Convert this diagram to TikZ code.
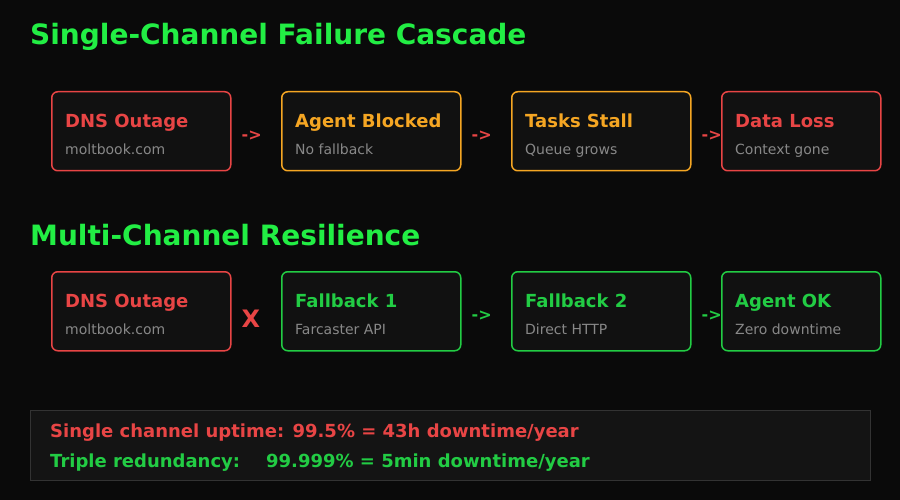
\documentclass[tikz,border=0pt]{standalone}
\usepackage{fontspec}
\setmainfont{DejaVu Sans}
\usetikzlibrary{positioning}

\definecolor{bgdark}{HTML}{0A0A0A}
\definecolor{cardfill}{HTML}{111111}
\definecolor{alertred}{HTML}{E84545}
\definecolor{warnorange}{HTML}{F5A623}
\definecolor{okgreen}{HTML}{22CC44}
\definecolor{headgreen}{HTML}{22EE44}
\definecolor{subgray}{HTML}{888888}
\definecolor{panelfill}{HTML}{141414}
\definecolor{panelline}{HTML}{333333}

\tikzset{
  card/.style={draw=#1, fill=cardfill, line width=1.5pt, rounded corners=6pt,
    minimum width=179pt, minimum height=79pt, inner sep=0pt, anchor=north west},
  cardtitle/.style={text=#1, font=\bfseries\fontsize{18}{20}\selectfont, inner sep=0pt, anchor=base west},
  cardsub/.style={text=subgray, font=\fontsize{14}{16}\selectfont, inner sep=0pt, anchor=base west},
  flowarrow/.style={text=#1, font=\bfseries\fontsize{16}{18}\selectfont, inner sep=0pt, anchor=base west},
  heading/.style={text=headgreen, font=\bfseries\fontsize{28}{32}\selectfont, inner sep=0pt, anchor=base west},
  statline/.style={text=#1, font=\bfseries\fontsize{18}{20}\selectfont, inner sep=0pt, anchor=base west}
}

\begin{document}
\begin{tikzpicture}[x=1pt, y=-1pt]
  \fill[bgdark] (0,0) rectangle (900,500);
  \useasboundingbox (0,0) rectangle (900,500);

  % single channel
  \node[heading] (headsingle) at (30,45) {Single-Channel Failure Cascade};

  \node[card=alertred] (dns) at (51,91) {};
  \node[card=warnorange] (blocked) at (281,91) {};
  \node[card=warnorange] (stall) at (511,91) {};
  \node[card=alertred, minimum width=159pt] (loss) at (721,91) {};

  \node[cardtitle=alertred] (dnst) at ([shift={(14,-4)}]dns.west) {DNS Outage};
  \node[cardsub] (dnss) at ([shift={(14,23)}]dns.west) {moltbook.com};
  \node[cardtitle=warnorange] (blockedt) at ([shift={(14,-4)}]blocked.west) {Agent Blocked};
  \node[cardsub] (blockeds) at ([shift={(14,23)}]blocked.west) {No fallback};
  \node[cardtitle=warnorange] (stallt) at ([shift={(14,-4)}]stall.west) {Tasks Stall};
  \node[cardsub] (stalls) at ([shift={(14,23)}]stall.west) {Queue grows};
  \node[cardtitle=alertred] (losst) at ([shift={(14,-4)}]loss.west) {Data Loss};
  \node[cardsub] (losss) at ([shift={(14,23)}]loss.west) {Context gone};

  \node[flowarrow=alertred] (a1) at ([shift={(10,9)}]dns.east) {->};
  \node[flowarrow=alertred] (a2) at ([shift={(10,9)}]blocked.east) {->};
  \node[flowarrow=alertred] (a3) at ([shift={(10,9)}]stall.east) {->};

  % multi channel
  \node[heading] (headmulti) at (30,245) {Multi-Channel Resilience};

  \node[card=alertred] (dnsb) at (51,271) {};
  \node[card=okgreen] (fbone) at (281,271) {};
  \node[card=okgreen] (fbtwo) at (511,271) {};
  \node[card=okgreen, minimum width=159pt] (agentok) at (721,271) {};

  \node[cardtitle=alertred] (dnsbt) at ([shift={(14,-4)}]dnsb.west) {DNS Outage};
  \node[cardsub] (dnsbs) at ([shift={(14,23)}]dnsb.west) {moltbook.com};
  \node[cardtitle=okgreen] (fbonet) at ([shift={(14,-4)}]fbone.west) {Fallback 1};
  \node[cardsub] (fbones) at ([shift={(14,23)}]fbone.west) {Farcaster API};
  \node[cardtitle=okgreen] (fbtwot) at ([shift={(14,-4)}]fbtwo.west) {Fallback 2};
  \node[cardsub] (fbtwos) at ([shift={(14,23)}]fbtwo.west) {Direct HTTP};
  \node[cardtitle=okgreen] (agentokt) at ([shift={(14,-4)}]agentok.west) {Agent OK};
  \node[cardsub] (agentoks) at ([shift={(14,23)}]agentok.west) {Zero downtime};

  \node[text=alertred, font=\bfseries\fontsize{24}{26}\selectfont, inner sep=0pt, anchor=base west]
    (cross) at ([shift={(10,16)}]dnsb.east) {X};
  \node[flowarrow=okgreen] (b2) at ([shift={(10,9)}]fbone.east) {->};
  \node[flowarrow=okgreen] (b3) at ([shift={(10,9)}]fbtwo.east) {->};

  % uptime summary
  \draw[fill=panelfill, draw=panelline, line width=1pt] (30,410) rectangle (870,480);
  \node[statline=alertred] (single) at (50,437) {Single channel uptime: 99.5\% = 43h downtime/year};
  \node[statline=okgreen] (triple) at (50,467) {Triple redundancy:\hspace{26pt}99.999\% = 5min downtime/year};
\end{tikzpicture}
\end{document}
